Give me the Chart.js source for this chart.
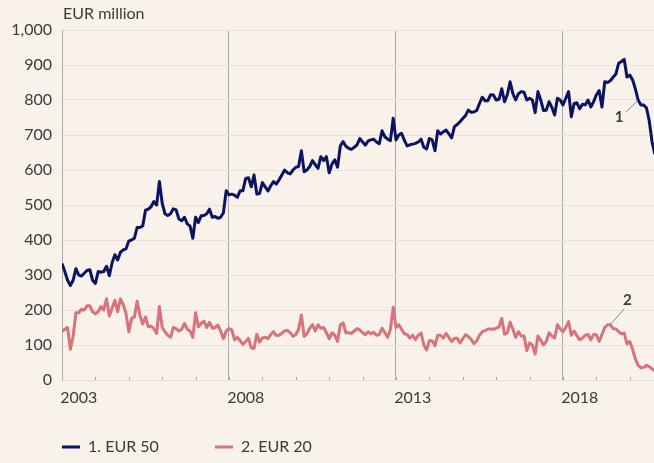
<!DOCTYPE html>
<html>
<head>
<meta charset="utf-8">
<script src="https://cdn.jsdelivr.net/npm/chart.js@4.4.0/dist/chart.umd.min.js"></script>
<style>
  html, body { margin: 0; padding: 0; background: #f8f2eb; }
  #wrap { width: 654px; height: 463px; position: relative; }
</style>
</head>
<body>
<div id="wrap"><canvas id="chart"></canvas></div>
<script>
const startYear = 2003;
const endX = 2020.725;
const labelYears = [2003, 2008, 2013, 2018];
const seriesNames = ["1. EUR 50", "2. EUR 20"];
const seriesColors = ["#0b1461", "#d8737a"];
const unitLabel = "EUR million";

// monthly values, one row per year starting Jan 2003
const eur50 = [
  333,310,285,270,285,318,300,297,305,313,315,285,
  276,310,308,310,325,298,335,358,343,365,372,375,
  397,400,405,436,436,440,485,488,495,510,500,567,
  505,475,470,475,489,486,460,455,465,446,440,405,
  465,450,469,470,475,488,465,467,462,465,478,541,
  529,531,528,522,541,541,576,578,552,586,531,533,
  564,552,540,555,567,560,572,586,600,592,589,600,
  608,610,655,595,600,610,627,615,605,638,627,638,
  592,617,629,608,669,681,668,662,659,665,672,690,
  680,671,683,686,688,680,675,712,695,688,684,748,
  686,700,705,685,669,672,674,676,680,688,665,660,
  690,686,655,712,703,709,714,703,692,724,730,738,
  747,756,771,765,766,770,790,808,798,798,815,814,
  800,802,832,795,815,852,818,800,818,824,822,800,
  805,800,764,824,800,770,771,795,779,757,805,800,
  786,805,824,752,790,792,775,788,786,800,780,795,
  815,827,780,852,850,855,865,874,905,910,916,866,
  871,858,832,800,786,786,777,740,680,645
];
const eur20 = [
  138,145,150,88,125,192,192,202,200,212,212,195,
  189,195,210,200,232,183,205,228,195,232,215,190,
  138,176,180,225,185,160,180,152,154,147,133,210,
  150,138,128,122,150,147,140,145,162,145,140,122,
  192,152,162,168,150,165,148,150,157,140,118,140,
  147,143,115,122,112,102,110,119,92,90,131,108,
  120,122,118,130,138,127,128,134,140,142,135,125,
  130,145,186,125,132,148,158,140,158,148,150,135,
  118,135,128,110,157,163,135,135,133,140,147,143,
  135,129,138,132,136,128,130,148,135,122,145,208,
  150,158,145,132,130,120,128,115,128,134,100,86,
  112,112,98,128,128,120,133,122,110,119,119,106,
  118,129,124,116,104,112,128,138,141,146,146,145,
  148,152,176,131,135,165,145,122,138,126,126,84,
  106,100,74,126,114,100,110,135,126,120,158,146,
  138,150,167,128,140,126,115,120,128,130,115,130,
  129,110,130,150,158,158,147,146,138,132,134,103,
  110,88,60,42,35,36,42,38,32,26
];

// where the small "1" / "2" callouts sit on each line (month index)
const calloutIndex = [207, 197];

const font = { family: "Lato, 'Open Sans', sans-serif", size: 16 };
const textColor = "#3a3a3a";

const toPoints = vals => vals.map((v, i) => ({ x: startYear + i / 12, y: v }));

const extras = {
  id: "extras",
  beforeDatasetsDraw(chart) {
    const { ctx, chartArea, scales } = chart;
    const x = scales.x;
    ctx.save();
    ctx.strokeStyle = "#a9a6a3";
    ctx.lineWidth = 1;
    for (let yr = startYear + 1; yr <= Math.floor(endX); yr++) {
      const px = Math.round(x.getPixelForValue(yr)) + 0.5;
      ctx.beginPath();
      ctx.moveTo(px, chartArea.bottom - 3);
      ctx.lineTo(px, chartArea.bottom);
      ctx.stroke();
    }
    ctx.restore();
  },
  afterDraw(chart) {
    const { ctx, chartArea } = chart;
    ctx.save();
    ctx.font = `${font.size}px ${font.family}`;
    ctx.fillStyle = textColor;
    ctx.textBaseline = "middle";
    ctx.fillText(unitLabel, chartArea.left + 1, 14);

    // legend
    const legendX = [62, 215];
    chart.data.datasets.forEach((ds, i) => {
      const lx = legendX[i], ly = 447;
      ctx.strokeStyle = ds.borderColor;
      ctx.lineWidth = 3;
      ctx.beginPath();
      ctx.moveTo(lx, ly);
      ctx.lineTo(lx + 18, ly);
      ctx.stroke();
      ctx.fillStyle = textColor;
      ctx.font = `16px ${font.family}`;
      ctx.fillText(ds.label, lx + 26, ly);
    });

    // callouts
    const offs = [
      { line: [-12, 12], text: [-19, 17] },
      { line: [14, -16], text: [17, -25] }
    ];
    chart.data.datasets.forEach((ds, i) => {
      const pt = chart.getDatasetMeta(i).data[calloutIndex[i]];
      const o = offs[i];
      ctx.strokeStyle = "#6f6f6f";
      ctx.lineWidth = 0.8;
      ctx.beginPath();
      ctx.moveTo(pt.x, pt.y);
      ctx.lineTo(pt.x + o.line[0], pt.y + o.line[1]);
      ctx.stroke();
      ctx.fillStyle = "#3a3a3a";
      ctx.font = `bold 15px ${font.family}`;
      ctx.textAlign = "center";
      ctx.fillText(String(i + 1), pt.x + o.text[0], pt.y + o.text[1]);
      ctx.textAlign = "start";
    });
    ctx.restore();
  }
};

new Chart(document.getElementById("chart"), {
  type: "line",
  data: {
    datasets: [
      { label: seriesNames[0], data: toPoints(eur50), borderColor: seriesColors[0], borderWidth: 3 },
      { label: seriesNames[1], data: toPoints(eur20), borderColor: seriesColors[1], borderWidth: 3 }
    ]
  },
  options: {
    responsive: true,
    maintainAspectRatio: false,
    animation: false,
    elements: { point: { radius: 0 }, line: { tension: 0, borderJoinStyle: "round" } },
    layout: { padding: { top: 30, bottom: 53, left: 0, right: 0 } },
    plugins: { legend: { display: false }, tooltip: { enabled: false } },
    scales: {
      x: {
        type: "linear",
        min: startYear,
        max: endX,
        afterBuildTicks(scale) {
          const t = [];
          labelYears.forEach(y => {
            if (y > startYear) t.push({ value: y });
            t.push({ value: y + 0.5 });
          });
          scale.ticks = t;
        },
        afterFit(scale) { scale.height = 30; },
        ticks: {
          autoSkip: false,
          maxRotation: 0,
          padding: 8,
          color: textColor,
          font,
          callback: v => Number.isInteger(v) ? "" : String(Math.floor(v))
        },
        grid: {
          drawTicks: false,
          color: c => (c.tick && Number.isInteger(c.tick.value)) ? "#aaa7a4" : "rgba(0,0,0,0)"
        },
        border: { display: true, color: "#e6dfd6" }
      },
      y: {
        min: 0,
        max: 1000,
        afterFit(scale) { scale.width = 62; },
        ticks: {
          stepSize: 100,
          padding: 10,
          color: textColor,
          font,
          callback: v => v.toLocaleString("en-US")
        },
        grid: { drawTicks: false, color: "#e8e1d8" },
        border: { display: true, color: "#b3b0ac" }
      }
    }
  },
  plugins: [extras]
});
</script>
</body>
</html>
